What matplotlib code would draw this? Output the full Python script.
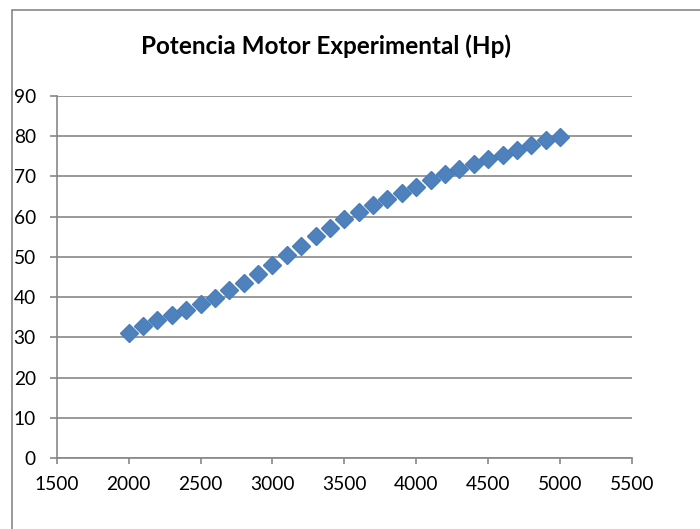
import matplotlib.pyplot as plt
from matplotlib.patches import Rectangle

# rpm vs experimental power (Hp)
rpm = [2000, 2100, 2200, 2300, 2400, 2500, 2600, 2700, 2800, 2900,
       3000, 3100, 3200, 3300, 3400, 3500, 3600, 3700, 3800, 3900,
       4000, 4100, 4200, 4300, 4400, 4500, 4600, 4700, 4800, 4900, 5000]
potencia = [31.2, 32.8, 34.3, 35.6, 36.9, 38.3, 39.9, 41.7, 43.6, 45.8,
            48.0, 50.4, 52.8, 55.1, 57.3, 59.3, 61.2, 62.9, 64.5, 66.0,
            67.5, 69.0, 70.5, 71.9, 73.2, 74.3, 75.3, 76.6, 77.9, 79.0, 79.8]
x_ticks = [1500, 2000, 2500, 3000, 3500, 4000, 4500, 5000, 5500]
y_ticks = [0, 10, 20, 30, 40, 50, 60, 70, 80, 90]
titulo = 'Potencia Motor Experimental (Hp)'

plt.rcParams['font.family'] = ['Lato', 'DejaVu Sans']
grey = '#878787'

fig = plt.figure(figsize=(7, 5.29), dpi=100)
ax = fig.add_axes([56.7 / 700, 1 - 458 / 529, (632 - 56.7) / 700, (458 - 96) / 529])

# chart frame (only left and top edges are visible in the picture)
fig.patches.append(Rectangle((11.5 / 700, -0.2), 1.2, 1.2 - 10 / 529,
                             transform=fig.transFigure, fill=False,
                             edgecolor=grey, linewidth=1.2, clip_on=False))

ax.plot(rpm, potencia, linestyle='none', marker='D', markersize=9,
        color='#4F81BD', markeredgecolor='#4A7EBB', zorder=3)

ax.set_xlim(1500, 5500)
ax.set_ylim(0, 90)
ax.set_xticks(x_ticks)
ax.set_yticks(y_ticks)
ax.grid(axis='y', color=grey, linewidth=1.2)
ax.set_axisbelow(True)

for s in ['top', 'right']:
    ax.spines[s].set_visible(False)
for s in ['left', 'bottom']:
    ax.spines[s].set_color(grey)
    ax.spines[s].set_linewidth(1.2)

ax.tick_params(axis='y', direction='out', length=5, width=1.2, color=grey,
               pad=10, labelsize=13.8)
ax.tick_params(axis='x', direction='out', length=4, width=1.2, color=grey,
               pad=9, labelsize=13.8)

fig.text(326 / 700, 1 - 46 / 529, titulo, ha='center', va='center',
         fontsize=17.5, fontweight='bold')

fig.savefig('out.png', dpi=100)
